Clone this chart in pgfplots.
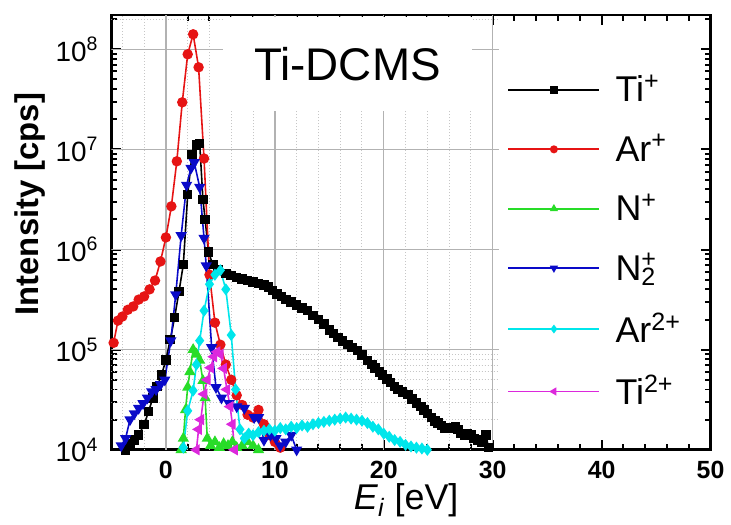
\documentclass[border=0pt]{standalone}
\usepackage{fontspec}
\setmainfont{Liberation Sans}
\usepackage{pgfplots}
\pgfplotsset{compat=1.18}
\definecolor{cTi}{RGB}{0,0,0}
\definecolor{cAr}{RGB}{230,20,20}
\definecolor{cN}{RGB}{40,220,40}
\definecolor{cNN}{RGB}{10,10,200}
\definecolor{cArr}{RGB}{0,230,235}
\definecolor{cTii}{RGB}{220,40,220}
\begin{document}
\begin{tikzpicture}
\begin{axis}[name=ax,
  scale only axis, width=301pt, height=218.5pt,
  xmin=-5, xmax=50, ymode=log, ymin=1e4, ymax=2.2e8,
  xtick={0,10,20,30,40,50}, xticklabels={0,10,20,30,40,50},
  minor x tick num=4,
  ytick={1e4,1e5,1e6,1e7,1e8},
  yticklabels={10\textsuperscript{4},10\textsuperscript{5},10\textsuperscript{6},10\textsuperscript{7},10\textsuperscript{8}},
  minor ytick={2e4,3e4,4e4,5e4,6e4,7e4,8e4,9e4,2e5,3e5,4e5,5e5,6e5,7e5,8e5,9e5,2e6,3e6,4e6,5e6,6e6,7e6,8e6,9e6,2e7,3e7,4e7,5e7,6e7,7e7,8e7,9e7,2e8},
  tick align=inside,
  axis line style={line width=1.4pt},
  every tick/.style={black, line width=1pt},
  major tick length=5pt, minor tick length=3pt,
  xticklabel style={font=\bfseries\fontsize{12.5}{13}\selectfont, yshift=-2pt},
  yticklabel style={font=\fontsize{14}{15}\selectfont, xshift=-3pt},
  xlabel={\textit{E}\textsubscript{\itshape i} [eV]},
  xlabel style={font=\fontsize{18}{20}\selectfont, at={(axis description cs:0.492,-0.117)}, anchor=center},
  ylabel={\textbf{Intensity [cps]}},
  ylabel style={font=\fontsize{16.5}{18}\selectfont, at={(axis description cs:-0.136,0.565)}, anchor=center, rotate=0},
  legend style={draw=none, fill=none, at={(rel axis cs:0.66,0.872)}, anchor=north west,
    font=\fontsize{18}{20}\selectfont, row sep=10.8pt, column sep=6pt, inner sep=0pt},
  legend cell align=left,
  legend image code/.code={\draw[#1, mark=none, line width=0.9pt] (0pt,0pt) -- (45.5pt,0pt); \draw[#1, only marks, mark size=1.6pt] plot coordinates {(23pt,0pt)};},
]
% grid (stops at the legend region)
\pgfplotsinvokeforeach{4,5,6,7}{%
  \pgfplotsinvokeforeach{2,3,4,5,6,7,8,9}{\draw[gray!45, densely dotted, line width=0.5pt] (axis cs:-5,##1e#1) -- (axis cs:30.6,##1e#1);}}
\draw[gray!45, densely dotted, line width=0.5pt] (axis cs:-5,2e8) -- (axis cs:30.6,2e8);
\pgfplotsinvokeforeach{-4,-2,2,4,6,8,12,14,16,18,22,24,26,28}{\draw[gray!45, densely dotted, line width=0.5pt] (axis cs:#1,1e4) -- (axis cs:#1,2.2e8);}
\pgfplotsinvokeforeach{1e5,1e6,1e7,1e8}{\draw[gray!60, line width=0.7pt] (axis cs:-5,#1) -- (axis cs:30.6,#1);}
\pgfplotsinvokeforeach{0,10,20,30}{\draw[gray!60, line width=0.7pt] (axis cs:#1,1e4) -- (axis cs:#1,2.2e8);}
\node[fill=white, minimum width=125.5pt, minimum height=47pt, inner sep=0pt,
      font=\fontsize{23}{25}\selectfont] at (rel axis cs:0.394,0.887) {Ti-DCMS};

% Ti+
\addplot[cTi, line width=0.8pt, mark=square*, mark size=2pt] coordinates {
(-3.7,1.0e4) (-3.3,1.15e4) (-2.9,1.26e4) (-2.5,1.41e4) (-2.0,1.78e4) (-1.6,2.4e4)
(-1.2,3.3e4) (-0.8,4.3e4) (-0.4,5.6e4) (0.0,7.9e4) (0.4,1.26e5) (0.8,2.1e5)
(1.2,3.8e5) (1.6,7.1e5) (2.0,3.55e6) (2.4,8.9e6) (2.8,1.1e7) (3.1,1.15e7)
(3.4,3.16e6) (3.6,2.0e6) (3.9,9.5e5) (4.3,7.1e5) (4.8,6.3e5) (5.5,5.75e5)
(6.0,5.5e5) (6.5,5.25e5) (7.0,5.1e5) (7.5,4.9e5) (8.0,4.75e5) (8.5,4.6e5)
(9.0,4.4e5) (9.4,4.2e5) (9.8,3.9e5) (10.2,3.6e5) (10.6,3.4e5) (11.0,3.16e5)
(11.5,3.0e5) (12.0,2.8e5) (12.5,2.6e5) (13.0,2.45e5) (13.5,2.2e5) (14.0,2.0e5)
(14.5,1.8e5) (15.0,1.58e5) (15.4,1.45e5) (15.8,1.32e5) (16.2,1.22e5) (16.7,1.12e5)
(17.1,1.05e5) (17.6,9.8e4) (18.0,8.8e4) (18.5,7.8e4) (18.9,7.1e4) (19.2,6.6e4)
(19.6,6.0e4) (19.9,5.6e4) (20.3,5.1e4) (20.6,4.7e4) (21.0,4.3e4) (21.3,4.0e4)
(21.7,3.8e4) (22.2,3.55e4) (22.6,3.2e4) (23.0,2.95e4) (23.4,2.7e4) (23.7,2.5e4)
(24.0,2.3e4) (24.4,2.1e4) (24.7,1.95e4) (25.0,1.86e4) (25.3,1.75e4) (25.6,1.66e4)
(26.0,1.66e4) (26.3,1.66e4) (26.6,1.7e4) (26.8,1.6e4) (27.1,1.45e4) (27.4,1.41e4)
(27.7,1.45e4) (28.0,1.41e4) (28.3,1.3e4) (28.6,1.26e4) (29.0,1.2e4) (29.4,1.41e4) (29.6,1.05e4)
};
\addlegendentry{Ti\textsuperscript{+}}
% Ar+
\addplot[cAr, line width=0.8pt, mark=*, mark size=2.2pt] coordinates {
(-4.8,1.17e5) (-4.4,1.95e5) (-4.0,2.14e5) (-3.5,2.5e5) (-3.0,2.7e5) (-2.5,3.16e5)
(-2.0,3.4e5) (-1.5,4.0e5) (-1.0,4.9e5) (-0.5,7.6e5) (0.0,1.32e6) (0.5,2.7e6)
(1.0,7.6e6) (1.5,2.95e7) (2.0,8.9e7) (2.5,1.41e8) (3.0,6.6e7) (3.5,8.1e6)
(4.0,5.6e5) (4.5,1.86e5) (5.0,1.12e5) (5.5,7.1e4) (6.0,5.0e4) (6.5,3.5e4)
(7.0,2.8e4) (7.5,2.24e4) (8.0,2.1e4) (8.5,2.5e4) (9.0,1.8e4) (9.5,1.4e4)
(10.0,1.2e4) (10.5,1.05e4)
};
\addlegendentry{Ar\textsuperscript{+}}
% N+
\addplot[cN, line width=0.8pt, mark=triangle*, mark size=2.5pt] coordinates {
(1.4,1.0e4) (1.6,1.3e4) (1.8,2.5e4) (2.0,4.2e4) (2.2,6.0e4) (2.5,1.0e5)
(2.8,9.0e4) (3.1,7.8e4) (3.4,4.9e4) (3.6,3.3e4) (3.8,1.3e4) (4.1,1.1e4)
(4.5,1.2e4) (4.9,1.05e4) (5.3,1.15e4) (5.7,1.1e4) (6.1,1.2e4) (6.5,1.05e4)
(7.0,1.1e4) (7.5,1.2e4) (8.0,1.1e4) (8.5,1.0e4)
};
\addlegendentry{N\textsuperscript{+}}
% N2+
\addplot[cNN, line width=0.8pt, mark=triangle*, mark options={rotate=180}, mark size=2.5pt] coordinates {
(-4.1,1.1e4) (-3.7,1.3e4) (-3.3,2.0e4) (-2.9,2.3e4) (-2.5,2.6e4) (-2.1,2.9e4)
(-1.7,3.3e4) (-1.3,3.8e4) (-0.9,4.0e4) (-0.5,4.5e4) (-0.1,5.0e4) (0.45,1.23e5)
(0.9,3.55e5) (1.4,1.38e6) (1.9,4.4e6) (2.3,6.5e6) (2.6,7.4e6) (3.1,4.2e6)
(3.5,1.3e6) (3.7,6.9e5) (4.2,1.05e5) (4.6,4.2e4) (5.1,3.3e4) (5.8,2.9e4)
(6.5,2.7e4) (7.2,2.6e4) (8.1,2.1e4) (8.5,2.1e4) (9.0,1.25e4) (9.6,1.4e4)
(10.1,1.3e4) (10.5,1.1e4) (11.0,1.2e4) (11.5,1.4e4) (12.0,1.0e4)
};
\addlegendentry{N\rlap{\textsuperscript{+}}\textsubscript{2}}
% Ar2+
\addplot[cArr, line width=0.8pt, mark=diamond*, mark size=2.4pt] coordinates {
(1.6,1.05e4) (2.0,2.45e4) (2.5,3.9e4) (2.8,7.1e4) (3.1,1.23e5) (3.5,2.45e5)
(4.0,4.5e5) (4.5,5.6e5) (5.0,6.2e5) (5.5,4.0e5) (6.0,1.4e5) (6.4,4.0e4)
(6.8,1.6e4) (7.2,1.3e4) (7.6,1.45e4) (8.0,1.4e4) (8.5,1.5e4) (9.0,1.55e4)
(9.5,1.6e4) (10.0,1.55e4) (10.5,1.65e4) (11.0,1.6e4) (11.5,1.7e4) (12.0,1.65e4)
(12.5,1.75e4) (13.0,1.7e4) (13.5,1.8e4) (14.0,1.85e4) (14.5,1.9e4) (15.0,1.95e4)
(15.5,2.0e4) (16.0,2.05e4) (16.5,2.1e4) (17.0,2.05e4) (17.5,2.0e4) (18.0,1.95e4)
(18.5,1.85e4) (19.0,1.7e4) (19.5,1.6e4) (20.0,1.45e4) (20.5,1.35e4) (21.0,1.25e4)
(21.5,1.2e4) (22.0,1.12e4) (22.5,1.08e4) (23.0,1.05e4) (23.5,1.03e4) (24.0,1.0e4)
};
\addlegendentry{Ar\textsuperscript{2+}}
% Ti2+
\addplot[cTii, line width=0.8pt, mark=triangle*, mark options={rotate=90}, mark size=2.5pt] coordinates {
(2.8,1.0e4) (3.0,1.6e4) (3.2,2.0e4) (3.5,3.6e4) (3.8,5.0e4) (4.1,6.6e4)
(4.4,8.5e4) (4.7,9.5e4) (5.0,9.0e4) (5.3,6.5e4) (5.6,4.0e4) (5.9,2.7e4)
(6.1,1.8e4) (6.3,1.0e4)
};
\addlegendentry{Ti\textsuperscript{2+}}
\end{axis}
\path ([shift={(-56pt,-37pt)}]ax.south west) rectangle ([shift={(8.5pt,7.5pt)}]ax.north east);
\end{tikzpicture}
\end{document}
